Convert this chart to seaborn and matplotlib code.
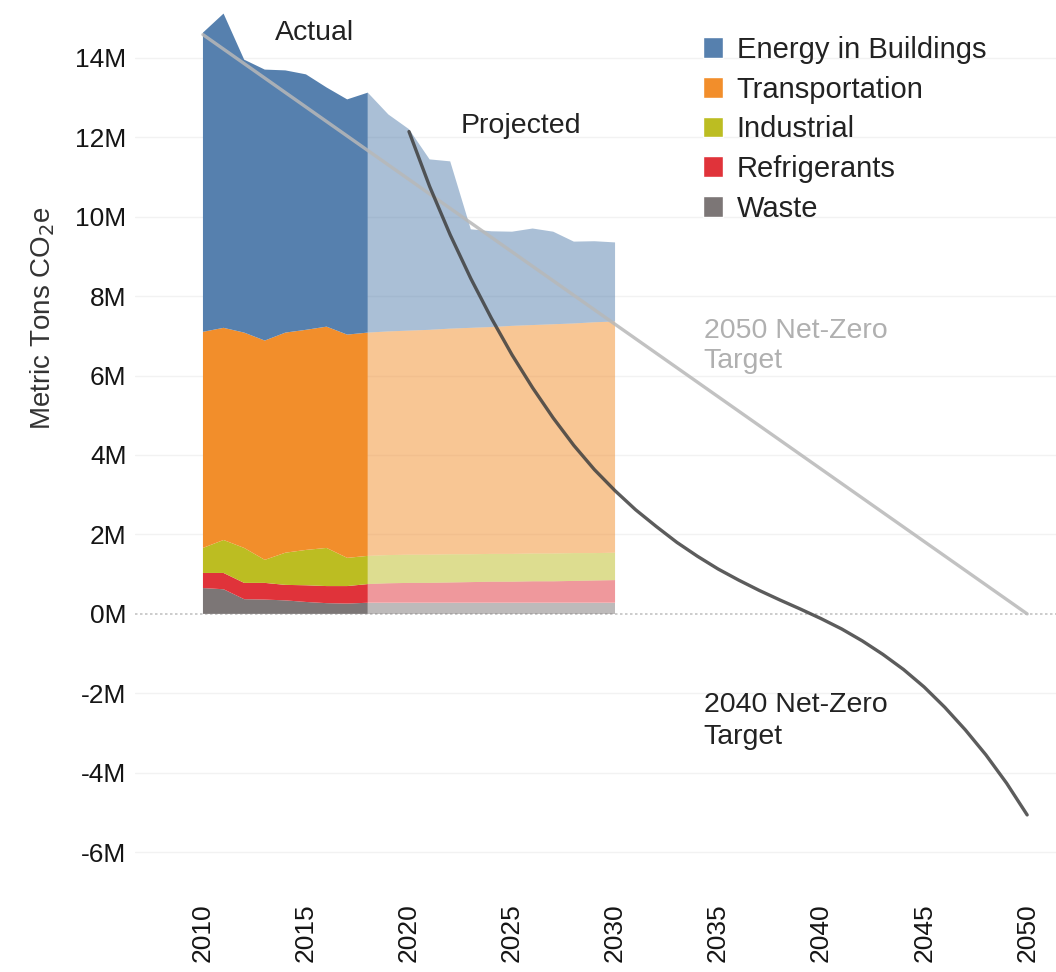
import numpy as np
import pandas as pd
import matplotlib
matplotlib.use("Agg")
import matplotlib.pyplot as plt
from matplotlib.patches import Patch
from matplotlib.ticker import FuncFormatter
import seaborn as sns

# emissions in millions of metric tons CO2e
years_actual = [2010, 2011, 2012, 2013, 2014, 2015, 2016, 2017, 2018]
waste_actual = [0.65, 0.62, 0.37, 0.36, 0.34, 0.30, 0.27, 0.26, 0.28]
refrig_actual = [0.38, 0.41, 0.41, 0.42, 0.39, 0.42, 0.43, 0.44, 0.47]
industrial_actual = [0.63, 0.83, 0.88, 0.58, 0.81, 0.89, 0.96, 0.71, 0.71]
transport_actual = [5.44, 5.34, 5.42, 5.52, 5.54, 5.54, 5.57, 5.62, 5.62]
buildings_actual = [7.53, 7.91, 6.87, 6.82, 6.60, 6.43, 6.02, 5.92, 6.04]

years_proj = [2018, 2019, 2020, 2021, 2022, 2023, 2024, 2025, 2026, 2027, 2028, 2029, 2030]
waste_proj = [0.28, 0.28, 0.28, 0.28, 0.28, 0.28, 0.28, 0.28, 0.28, 0.28, 0.28, 0.28, 0.28]
refrig_proj = [0.47, 0.49, 0.50, 0.50, 0.51, 0.52, 0.53, 0.53, 0.54, 0.54, 0.55, 0.56, 0.57]
industrial_proj = [0.71, 0.71, 0.71, 0.71, 0.71, 0.70, 0.70, 0.70, 0.70, 0.70, 0.70, 0.69, 0.69]
transport_proj = [5.62, 5.63, 5.64, 5.66, 5.68, 5.70, 5.71, 5.74, 5.75, 5.77, 5.78, 5.81, 5.82]
buildings_proj = [6.04, 5.46, 5.07, 4.29, 4.21, 2.48, 2.41, 2.37, 2.43, 2.33, 2.06, 2.04, 1.99]

# net-zero pathways
years_2050 = [2010, 2050]
target_2050 = [14.58, 0.0]

years_2040 = list(range(2020, 2051))
target_2040 = [12.14, 10.76, 9.54, 8.44, 7.44, 6.52, 5.69, 4.93, 4.24, 3.63, 3.10,
               2.62, 2.20, 1.80, 1.45, 1.13, 0.85, 0.59, 0.35, 0.12, -0.12,
               -0.38, -0.68, -1.02, -1.40, -1.84, -2.35, -2.92, -3.55, -4.26, -5.06]

sectors = ["Waste", "Refrigerants", "Industrial", "Transportation", "Energy in Buildings"]
colors = ["#7c7676", "#e0333a", "#bcbd22", "#f28e2b", "#5680ae"]

sns.set_theme(style="white")
plt.rcParams["font.family"] = ["Liberation Sans", "DejaVu Sans"]

fig = plt.figure(figsize=(10.56, 9.72), dpi=100)
ax = fig.add_axes([0.1278, 0.0905, 0.8722, 0.9033])

ax.stackplot(years_actual, waste_actual, refrig_actual, industrial_actual,
             transport_actual, buildings_actual, colors=colors,
             edgecolor="none", zorder=2)
ax.stackplot(years_proj, waste_proj, refrig_proj, industrial_proj,
             transport_proj, buildings_proj, colors=colors, alpha=0.5,
             edgecolor="none", zorder=2)

df50 = pd.DataFrame({"year": years_2050, "value": target_2050})
df40 = pd.DataFrame({"year": years_2040, "value": target_2040})
sns.lineplot(data=df50, x="year", y="value", ax=ax, color="#b8b8b8",
             alpha=0.85, linewidth=2.4, zorder=4)
sns.lineplot(data=df40, x="year", y="value", ax=ax, color="#3f3f3f",
             alpha=0.85, linewidth=2.4, zorder=5)

# grid + zero line
for v in range(-6, 15, 2):
    if v != 0:
        ax.axhline(v, color="#f2f2f2", linewidth=1, zorder=0)
ax.axhline(0, color="#c4c4c4", linewidth=1.2, linestyle=(0, (1.5, 1.5)), zorder=1)

ax.set_xlim(2006.7, 2051.4)
ax.set_ylim(-6.8, 15.3)
ax.set_xticks(range(2010, 2051, 5))
ax.set_yticks(range(-6, 15, 2))
ax.yaxis.set_major_formatter(FuncFormatter(lambda v, p: f"{int(v)}M"))
ax.tick_params(axis="y", labelsize=19, labelcolor="#151515", length=0, pad=6)
ax.tick_params(axis="x", labelsize=19, labelcolor="#151515", length=0, pad=14,
               labelrotation=90)
for s in ax.spines.values():
    s.set_visible(False)

ax.set_xlabel("")
ax.set_ylabel("Metric Tons CO$_2$e", fontsize=20, color="#333333",
              family=["Liberation Sans Narrow", "Liberation Sans"])
ax.yaxis.set_label_coords(-0.085, 0.645)

# annotations
ax.text(2013.5, 14.63, "Actual", fontsize=20.5, color="#222222", va="center", ha="left")
ax.text(2022.5, 12.27, "Projected", fontsize=20.5, color="#222222", va="center", ha="left")
ax.text(2034.3, 6.75, "2050 Net-Zero\nTarget", fontsize=20.5, color="#b0b0b0",
        va="center", ha="left", linespacing=1.2)
ax.text(2034.3, -2.7, "2040 Net-Zero\nTarget", fontsize=20.5, color="#222222",
        va="center", ha="left", linespacing=1.3)

handles = [Patch(facecolor=c, label=s) for s, c in zip(sectors, colors)][::-1]
ax.legend(handles=handles, loc="upper left", bbox_to_anchor=(0.6167, 0.966),
          frameon=False, fontsize=21, handlelength=0.7, handleheight=0.7,
          handletextpad=0.45, labelspacing=0.4, borderpad=0, borderaxespad=0,
          labelcolor="#222222")

fig.savefig("out.png", dpi=100)
